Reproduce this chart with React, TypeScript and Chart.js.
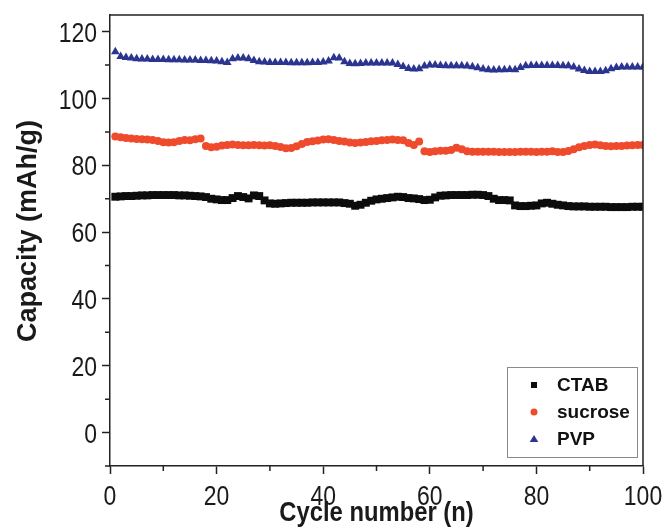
import React, { useEffect, useRef } from "react";
import { Chart, registerables } from "chart.js";

Chart.register(...registerables);

const cycles: number[] = Array.from({ length: 100 }, (_, i) => i + 1);

const ctabValues: number[] = [
  70.6, 70.7, 70.8, 70.8, 70.9, 71.0, 71.0, 71.1, 71.1, 71.1,
  71.1, 71.1, 71.0, 71.0, 70.9, 70.8, 70.7, 70.5, 70.0, 69.8,
  69.6, 69.6, 70.2, 70.8, 70.5, 70.1, 71.0, 70.8, 69.5, 68.6,
  68.5, 68.6, 68.7, 68.8, 68.8, 68.8, 68.8, 68.9, 68.9, 68.9,
  68.9, 68.9, 68.9, 68.7, 68.5, 67.9, 68.2, 68.8, 69.4, 69.8,
  70.0, 70.2, 70.4, 70.6, 70.5, 70.2, 70.1, 69.9, 69.6, 69.7,
  70.4, 70.9, 71.0, 71.1, 71.1, 71.1, 71.1, 71.2, 71.2, 71.1,
  70.8, 70.0, 69.6, 69.6, 69.5, 68.0, 67.8, 67.8, 67.9, 68.0,
  68.6, 68.8, 68.5, 68.2, 68.0, 67.8, 67.7, 67.7, 67.7, 67.6,
  67.6, 67.6, 67.6, 67.5, 67.5, 67.5, 67.5, 67.6, 67.6, 67.6,
];

const sucroseValues: number[] = [
  88.6, 88.4, 88.2, 88.0, 87.9, 87.8, 87.7, 87.6, 87.3, 86.9,
  86.8, 86.9, 87.3, 87.6, 87.5, 87.8, 88.0, 85.8, 85.4, 85.6,
  85.9, 86.1, 86.2, 86.1, 86.0, 86.0, 86.1, 86.0, 85.9, 86.0,
  85.8, 85.5, 85.1, 85.2, 85.7, 86.4, 87.0, 87.2, 87.4, 87.7,
  87.8, 87.6, 87.3, 87.1, 86.8, 86.7, 86.8, 87.0, 87.2, 87.3,
  87.5, 87.6, 87.7, 87.6, 87.5, 86.7, 86.1, 87.1, 84.2, 84.0,
  84.2, 84.4, 84.4, 84.6, 85.3, 84.8, 84.2, 84.1, 84.1, 84.1,
  84.1, 84.1, 84.0, 84.0, 84.0, 84.0, 84.1, 84.1, 84.1, 84.0,
  84.1, 84.1, 84.2, 84.0, 84.0, 84.3, 84.8, 85.4, 85.8, 86.1,
  86.2, 86.0, 85.8, 85.7, 85.8, 85.8, 85.9, 86.0, 86.1, 86.1,
];

const pvpValues: number[] = [
  114.0, 112.6, 112.3, 112.1, 111.9, 111.8, 111.8, 111.7, 111.7, 111.7,
  111.6, 111.6, 111.6, 111.5, 111.5, 111.5, 111.4, 111.4, 111.3, 111.2,
  111.0, 110.8, 111.9, 112.1, 112.1, 111.9, 111.4, 111.0, 110.9, 110.8,
  110.8, 110.8, 110.8, 110.7, 110.7, 110.7, 110.7, 110.8, 110.8, 110.9,
  111.2, 112.2, 112.1, 111.0, 110.5, 110.4, 110.5, 110.6, 110.6, 110.6,
  110.6, 110.6, 110.6, 110.2, 109.6, 109.0, 108.8, 108.9, 109.7, 110.0,
  110.0, 109.9, 109.8, 109.8, 109.8, 109.8, 109.7, 109.5, 109.2, 108.8,
  108.6, 108.5, 108.6, 108.6, 108.7, 108.6, 109.3, 109.8, 109.9, 109.9,
  109.9, 109.9, 109.9, 109.9, 109.8, 109.8, 109.4, 108.8, 108.4, 108.1,
  108.1, 108.1, 108.3, 108.9, 109.3, 109.4, 109.4, 109.4, 109.4, 109.4,
];

const seriesLabels: string[] = ["CTAB", "sucrose", "PVP"];
const seriesColors: string[] = ["#0c0c0c", "#ef4a2c", "#2b3590"];
const seriesShapes: string[] = ["rect", "circle", "triangle"];
const seriesRadii: number[] = [5.6, 4, 5];

const xTitle = "Cycle number (n)";
const yTitle = "Capacity (mAh/g)";

const AXIS_COLOR = "#222";
const SANS = '"Liberation Sans", Arial, Helvetica, sans-serif';
const NARROW_SCALE = 0.82;

function drawNarrow(ctx: any, text: string, x: number, y: number, align: string, scale: number) {
  ctx.save();
  ctx.translate(x, y);
  ctx.scale(scale, 1);
  ctx.textAlign = align;
  ctx.fillText(text, 0, 0);
  ctx.restore();
}

const decorPlugin = {
  id: "decor",
  beforeDraw(chart: any) {
    const ctx = chart.ctx;
    ctx.save();
    ctx.fillStyle = "#fff";
    ctx.fillRect(0, 0, chart.width, chart.height);
    ctx.restore();
  },
  afterDraw(chart: any) {
    const ctx = chart.ctx;
    const a = chart.chartArea;
    const xs = chart.scales.x;
    const ys = chart.scales.y;
    ctx.save();
    // box
    ctx.strokeStyle = AXIS_COLOR;
    ctx.lineWidth = 1.5;
    ctx.beginPath();
    ctx.moveTo(a.left, a.top);
    ctx.lineTo(a.right, a.top);
    ctx.lineTo(a.right, a.bottom);
    ctx.stroke();
    // minor ticks
    ctx.beginPath();
    xs.ticks.forEach((t: any) => {
      if (t.value % 20 !== 0) {
        const px = xs.getPixelForValue(t.value);
        ctx.moveTo(px, a.bottom);
        ctx.lineTo(px, a.bottom + 5);
      }
    });
    ys.ticks.forEach((t: any) => {
      if (t.value % 20 !== 0) {
        const py = ys.getPixelForValue(t.value);
        ctx.moveTo(a.left, py);
        ctx.lineTo(a.left - 5, py);
      }
    });
    ctx.stroke();

    // tick labels (condensed)
    ctx.fillStyle = "#1a1a1a";
    ctx.font = `28px ${SANS}`;
    ctx.textBaseline = "alphabetic";
    xs.ticks.forEach((t: any) => {
      if (t.value % 20 === 0) {
        drawNarrow(ctx, String(t.value), xs.getPixelForValue(t.value), a.bottom + 39, "center", NARROW_SCALE);
      }
    });
    ys.ticks.forEach((t: any) => {
      if (t.value % 20 === 0) {
        drawNarrow(ctx, String(t.value), a.left - 13, ys.getPixelForValue(t.value) + 10, "right", NARROW_SCALE);
      }
    });

    // axis titles
    ctx.fillStyle = "#1a1a1a";
    ctx.font = `bold 28px ${SANS}`;
    ctx.textBaseline = "alphabetic";
    drawNarrow(ctx, xTitle, (a.left + a.right) / 2, 521, "center", 0.85);

    ctx.save();
    ctx.translate(36, 231);
    ctx.rotate(-Math.PI / 2);
    ctx.font = `bold 27px ${SANS}`;
    ctx.textAlign = "center";
    ctx.textBaseline = "alphabetic";
    ctx.fillText(yTitle, 0, 0);
    ctx.restore();

    // legend
    const lx = a.right - 136;
    const ly = a.top + 352;
    const lw = 130;
    const lh = 90;
    ctx.fillStyle = "#fff";
    ctx.fillRect(lx, ly, lw, lh);
    ctx.strokeStyle = "#8a8a8a";
    ctx.lineWidth = 1;
    ctx.strokeRect(lx + 0.5, ly + 0.5, lw, lh);
    chart.data.datasets.forEach((ds: any, i: number) => {
      const cy = ly + 18 + i * 27;
      const mx = lx + 27;
      ctx.fillStyle = ds.pointBackgroundColor;
      ctx.beginPath();
      if (ds.pointStyle === "rect") {
        ctx.rect(mx - 3, cy - 3, 6, 6);
      } else if (ds.pointStyle === "circle") {
        ctx.arc(mx, cy, 3.5, 0, Math.PI * 2);
      } else {
        ctx.moveTo(mx, cy - 4);
        ctx.lineTo(mx + 4.3, cy + 3);
        ctx.lineTo(mx - 4.3, cy + 3);
        ctx.closePath();
      }
      ctx.fill();
      ctx.fillStyle = "#111";
      ctx.font = `bold 19px ${SANS}`;
      ctx.textAlign = "left";
      ctx.textBaseline = "middle";
      ctx.fillText(ds.label, lx + 50, cy + 1);
    });
    ctx.restore();
  },
};

function isMajor(v: number) {
  return v % 20 === 0;
}

export default function App() {
  const canvasRef = useRef<HTMLCanvasElement | null>(null);

  useEffect(() => {
    if (!canvasRef.current) return;
    const allValues = [ctabValues, sucroseValues, pvpValues];
    const datasets = allValues.map((vals, i) => ({
      label: seriesLabels[i],
      data: vals.map((v, j) => ({ x: cycles[j], y: v })),
      showLine: false,
      pointStyle: seriesShapes[i],
      pointRadius: seriesRadii[i],
      pointBackgroundColor: seriesColors[i],
      pointBorderColor: seriesColors[i],
      pointBorderWidth: 0,
      borderColor: seriesColors[i],
      backgroundColor: seriesColors[i],
    }));
    const chart = new Chart(canvasRef.current, {
      type: "scatter",
      data: { datasets },
      options: {
        animation: false,
        responsive: false,
        devicePixelRatio: 1,
        layout: { padding: { top: 15, right: 23, left: 0, bottom: 0 } },
        plugins: {
          legend: { display: false },
          tooltip: { enabled: false },
        },
        scales: {
          x: {
            type: "linear",
            min: 0,
            max: 100,
            afterFit: (s: any) => {
              s.height = 63;
            },
            ticks: {
              stepSize: 10,
              autoSkip: false,
              maxRotation: 0,
              includeBounds: false,
              padding: 4,
              color: "rgba(0,0,0,0)",
              font: { family: SANS, size: 12, lineHeight: 1 },
              callback: (v: any) => (isMajor(Number(v)) ? String(v) : ""),
            },
            grid: {
              display: true,
              drawOnChartArea: false,
              drawTicks: true,
              tickLength: 8,
              tickWidth: 1.5,
              tickColor: (c: any) => (c.tick && isMajor(c.tick.value) ? AXIS_COLOR : "rgba(0,0,0,0)"),
            },
            border: { display: true, color: AXIS_COLOR, width: 1.5 },
          },
          y: {
            type: "linear",
            min: -10,
            max: 125,
            afterFit: (s: any) => {
              s.width = 110;
            },
            ticks: {
              stepSize: 10,
              autoSkip: false,
              includeBounds: false,
              padding: 5,
              color: "rgba(0,0,0,0)",
              font: { family: SANS, size: 12, lineHeight: 1 },
              callback: (v: any) => (isMajor(Number(v)) ? String(v) : ""),
            },
            grid: {
              display: true,
              drawOnChartArea: false,
              drawTicks: true,
              tickLength: 8,
              tickWidth: 1.5,
              tickColor: (c: any) => (c.tick && isMajor(c.tick.value) ? AXIS_COLOR : "rgba(0,0,0,0)"),
            },
            border: { display: true, color: AXIS_COLOR, width: 1.5 },
          },
        },
      },
      plugins: [decorPlugin],
    } as any);
    return () => chart.destroy();
  }, []);

  return (
    <div style={{ position: "absolute", left: 0, top: 0, width: 666, height: 529, background: "#fff" }}>
      <canvas ref={canvasRef} width={666} height={529} style={{ display: "block", width: 666, height: 529 }} />
    </div>
  );
}
